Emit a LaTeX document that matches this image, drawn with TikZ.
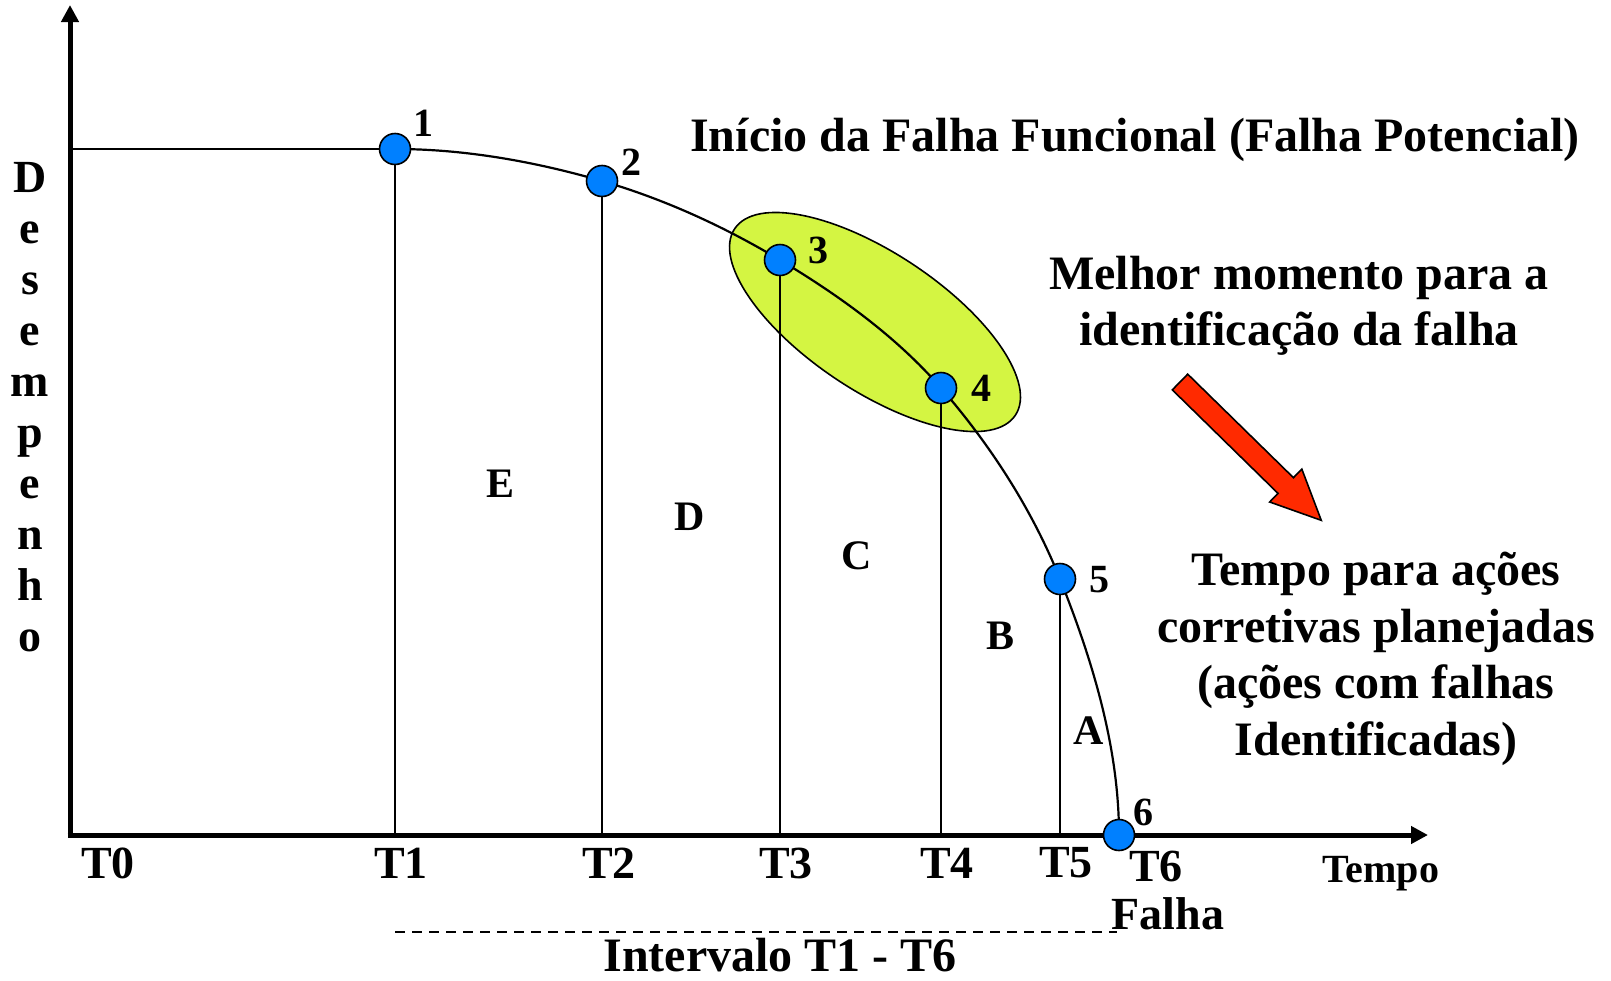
\documentclass[tikz,border=0pt]{standalone}
\usepackage{fontspec}
\setmainfont{Liberation Serif}
\usetikzlibrary{arrows.meta}
\definecolor{ptblue}{HTML}{0080FF}
\definecolor{zonelime}{HTML}{D4F542}
\definecolor{alertred}{HTML}{FF2A00}

\begin{document}
\begin{tikzpicture}[
  x=0.5pt, y=-0.5pt,
  font=\bfseries,
  axisarr/.style={line width=2.5pt, -{Triangle[length=8.5pt, width=8.5pt]}},
  guide/.style={line width=1pt},
  curveln/.style={line width=1.1pt},
  pdot/.style={circle, draw=black, line width=0.8pt, fill=ptblue, minimum size=15.5pt, inner sep=0pt},
  num/.style={font=\fontsize{20}{24}\selectfont\bfseries},
  tlabel/.style={font=\fontsize{23}{27}\selectfont\bfseries},
  region/.style={font=\fontsize{21}{25}\selectfont\bfseries},
  txt/.style={font=\fontsize{24}{28.25}\selectfont\bfseries, align=center},
  hilite/.style={draw=black, line width=0.8pt, fill=zonelime},
  redarr/.style={draw=black, line width=0.8pt, fill=alertred},
]
  \useasboundingbox (0,0) rectangle (1611,980);

  % points on the curve
  \coordinate (o)  at (70,835);
  \coordinate (xend) at (1428,835);
  \coordinate (yend) at (70,5);
  \coordinate (p1) at (395,149);
  \coordinate (p2) at (602,181);
  \coordinate (p3) at (780,260);
  \coordinate (p4) at (941,388);
  \coordinate (p5) at (1060,579);
  \coordinate (p6) at (1119,835);

  % highlighted zone (3 - 4)
  \draw[hilite, rotate around={-33.6:(875,322)}] (875,322) ellipse [x radius=168.5, y radius=69];

  \draw[guide] (o |- p1) -- (p1);
  \foreach \i in {1,...,5}
    \draw[guide] (p\i) -- (p\i |- o);

  \draw[curveln] (p1) .. controls (464.8,149) and (535,161.6) .. (p2)
    .. controls (664.3,199.1) and (724.3,226.6) .. (p3)
    .. controls (838.8,295.3) and (896,336.2) .. (p4)
    .. controls (990.2,444.6) and (1032.1,509.4) .. (p5)
    .. controls (1092.5,660.3) and (1119,747.4) .. (p6);

  % axes
  \draw[axisarr] ([xshift=-1.25pt]o) -- (xend);
  \draw[axisarr] ([yshift=-1.25pt]o) -- (yend);

  \foreach \i in {1,...,6}
    \node[pdot] (d\i) at (p\i) {};

  \node[num] (n1) at (423,123) {1};
  \node[num] (n2) at (631,162) {2};
  \node[num] (n3) at (818,250) {3};
  \node[num] (n4) at (981,388) {4};
  \node[num] (n5) at (1099,580) {5};
  \node[num] (n6) at (1143,812) {6};

  \node[region] (rE) at (501,484) {E};
  \node[region] (rD) at (690,517) {D};
  \node[region] (rC) at (857,556) {C};
  \node[region] (rB) at (1000,636) {B};
  \node[region] (rA) at (1089,731) {A};

  \node[tlabel] (t0) at (108,863) {T0};
  \node[tlabel] (t1) at (401,863) {T1};
  \node[tlabel] (t2) at (609,863) {T2};
  \node[tlabel] (t3) at (786,863) {T3};
  \node[tlabel] (t4) at (947,863) {T4};
  \node[tlabel] (t5) at (1066,863) {T5};
  \node[tlabel] (t6) at (1156,866) {T6};
  \node[tlabel] (falha) at (1168,914) {Falha};
  \node[num] (tempo) at (1381,874) {Tempo};

  % interval T1 - T6
  \coordinate (iv1) at (395,932);
  \coordinate (iv6) at (1117,932);
  \draw[guide, dash pattern=on 5pt off 3.5pt] (iv1) -- (iv6);
  \node[txt] (interv) at (780,955) {Intervalo T1 - T6};

  % vertical axis label
  \foreach \l [count=\i] in {D,e,s,e,m,p,e,n,h,o}
    \node[tlabel, anchor=base] (y\i) at (30,{141+51*\i}) {\l};

  \node[txt] (inicio) at (1135,140) {Início da Falha Funcional (Falha Potencial)};
  \node[txt] (melhor) at (1299,306) {Melhor momento para a\\identificação da falha};
  \node[txt] (acoes) at (1376,659) {Tempo para ações\\corretivas planejadas\\(ações com falhas\\Identificadas)};

  % red arrow
  \begin{scope}[shift={(1180,382)}, rotate=-44.4]
    \draw[redarr] (0,-11) -- (148,-11) -- (148,-23) -- (197.7,0) -- (148,23) -- (148,11) -- (0,11) -- cycle;
  \end{scope}
\end{tikzpicture}
\end{document}
